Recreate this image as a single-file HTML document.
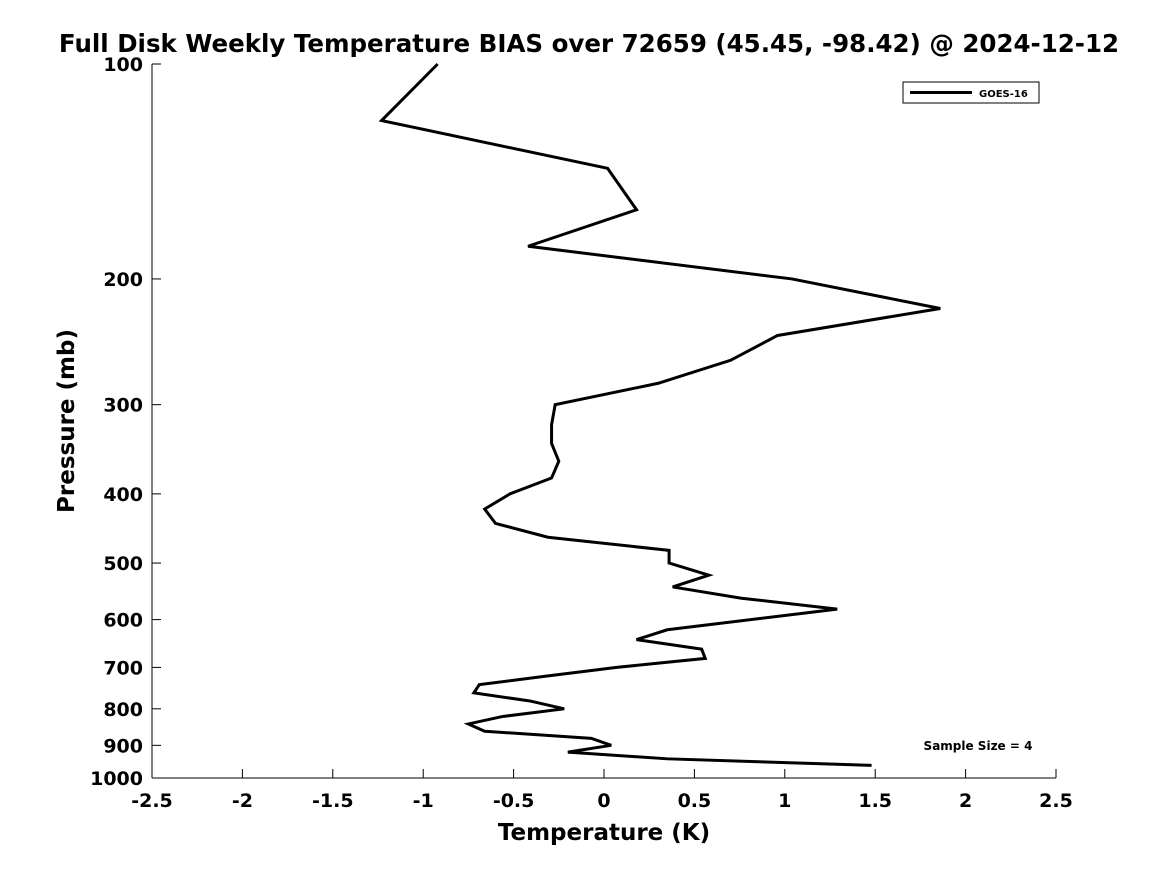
<!DOCTYPE html>
<html><head><meta charset="utf-8"><style>
body{margin:0;background:#fff;}
svg{display:block;font-family:"DejaVu Sans","Liberation Sans",sans-serif;}
</style></head><body>
<svg id="c" width="1167" height="875">
<text x="589" y="52" font-size="24.5" font-weight="bold" text-anchor="middle">Full Disk Weekly Temperature BIAS over 72659 (45.45, -98.42) @ 2024-12-12</text>
<g id="axes"></g>
<text transform="translate(74,421) rotate(-90)" font-size="23" font-weight="bold" text-anchor="middle">Pressure (mb)</text>
<text x="604" y="840" font-size="23" font-weight="bold" text-anchor="middle">Temperature (K)</text>
<g>
<rect x="903" y="82" width="136" height="21" fill="#fff" stroke="#000" stroke-width="1"/>
<line x1="910" y1="92.5" x2="972" y2="92.5" stroke="#000" stroke-width="3"/>
<text x="979" y="97" font-size="10" font-weight="bold">GOES-16</text>
</g>
<text x="978" y="750" font-size="12" font-weight="bold" text-anchor="middle">Sample Size = 4</text>
</svg>
<script>
const pressures=[100,120,140,160,180,200,220,240,260,280,300,320,340,360,380,400,420,440,460,480,500,520,540,560,580,620,640,660,680,700,720,740,760,780,800,820,840,860,880,900,920,940,960];
const bias=[-0.92,-1.23,0.02,0.18,-0.42,1.04,1.86,0.96,0.70,0.30,-0.27,-0.29,-0.29,-0.25,-0.29,-0.52,-0.66,-0.60,-0.31,0.36,0.36,0.58,0.38,0.76,1.29,0.35,0.18,0.54,0.56,0.07,-0.32,-0.69,-0.72,-0.41,-0.22,-0.56,-0.75,-0.66,-0.07,0.04,-0.20,0.35,1.48];
const xTicks=[-2.5,-2,-1.5,-1,-0.5,0,0.5,1,1.5,2,2.5];
const xTickLabels=["-2.5","-2","-1.5","-1","-0.5","0","0.5","1","1.5","2","2.5"];
const yTicks=[100,200,300,400,500,600,700,800,900,1000];
const NS="http://www.w3.org/2000/svg";
const X0=152,X1=1056,Y0=64,Y1=778;
const xs=v=>X0+(v+2.5)/5*(X1-X0);
const ys=p=>Y0+Math.log10(p/100)*(Y1-Y0);
const svg=document.getElementById('c');const ax=document.getElementById('axes');
function mk(t,a,p){const e=document.createElementNS(NS,t);for(const k in a)e.setAttribute(k,a[k]);(p||ax).appendChild(e);return e;}
const xa=mk('line',{x1:X0,y1:Y1,x2:X1,y2:Y1,stroke:'#000'});


const ya=mk('line',{x1:X0,y1:Y0,x2:X0,y2:Y1,stroke:'#000'});


xTicks.forEach((v,i)=>{mk('line',{x1:xs(v),y1:Y1,x2:xs(v),y2:Y1-9,stroke:'#000'});
const t=mk('text',{x:xs(v),y:Y1+29,'font-size':19,'font-weight':'bold','text-anchor':'middle'});t.textContent=xTickLabels[i];

});
yTicks.forEach(p=>{mk('line',{x1:X0,y1:ys(p),x2:X0+9,y2:ys(p),stroke:'#000'});
const t=mk('text',{x:X0-9,y:ys(p)+7,'font-size':19,'font-weight':'bold','text-anchor':'end'});t.textContent=p;

});
const line=mk('polyline',{points:pressures.map((p,i)=>xs(bias[i])+','+ys(p)).join(' '),fill:'none',stroke:'#000','stroke-width':3,'stroke-linejoin':'miter'},svg);


</script>
</body></html>
